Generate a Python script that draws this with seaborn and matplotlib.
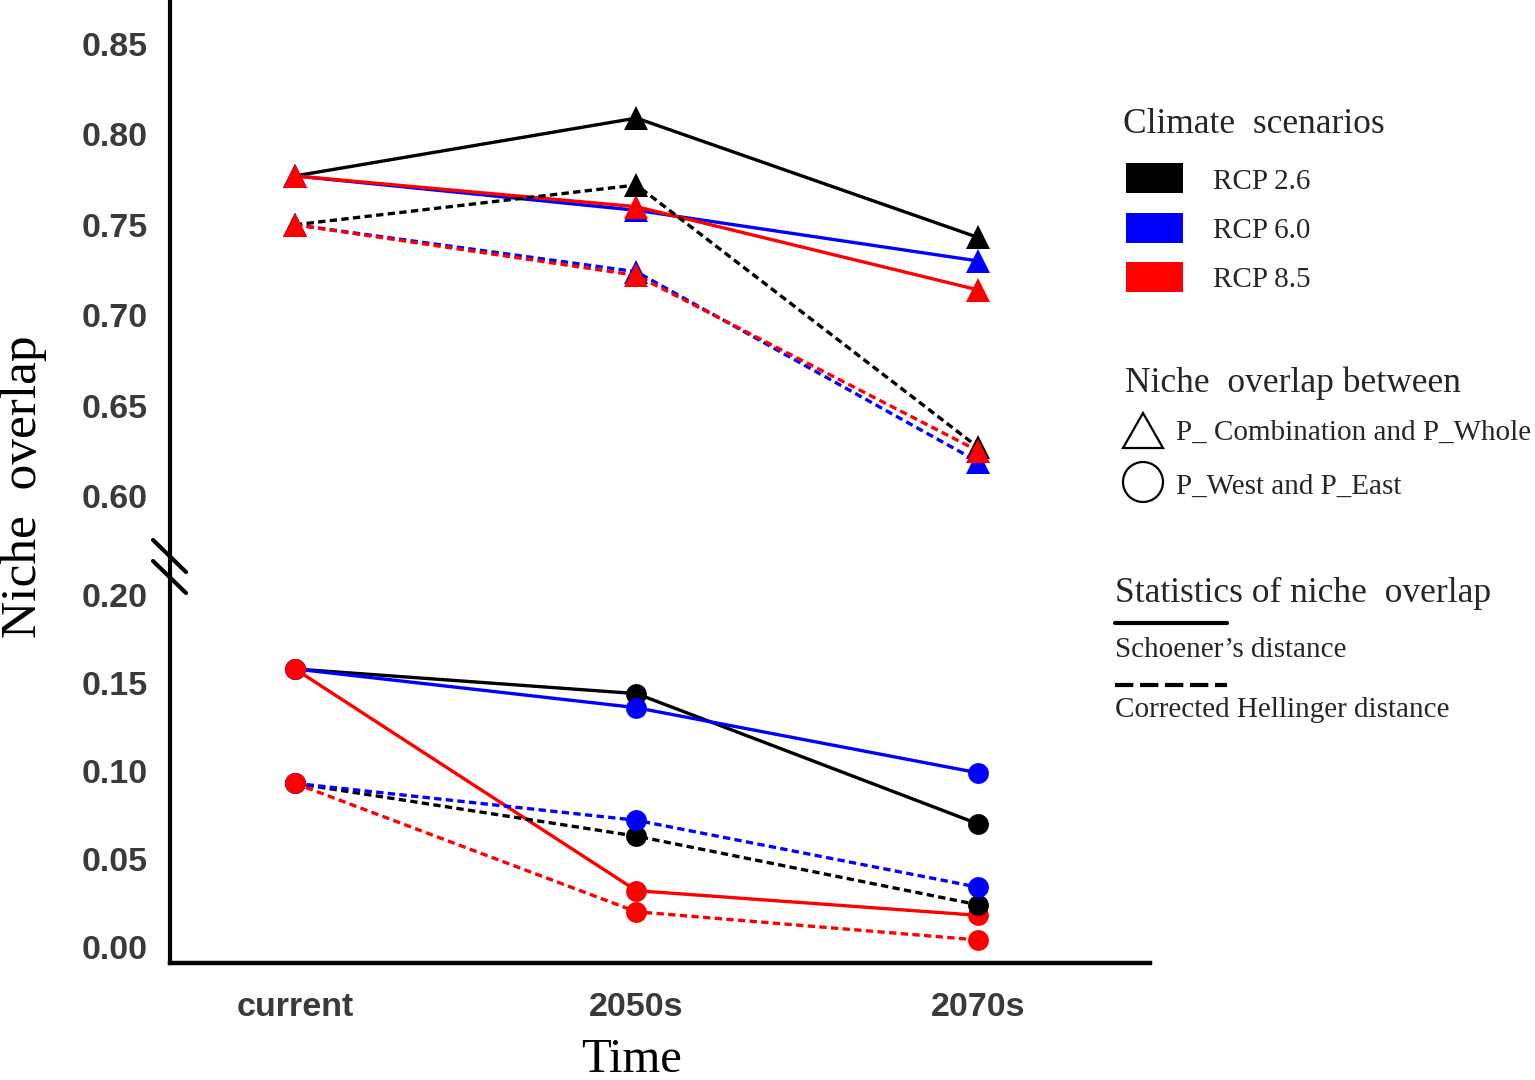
import matplotlib
matplotlib.use("Agg")
import matplotlib.pyplot as plt
from matplotlib.lines import Line2D
from matplotlib.patches import Rectangle, Polygon, Ellipse
import seaborn as sns
import pandas as pd

# ---------------- data ----------------
periods = ["current", "2050s", "2070s"]
scenarios = ["RCP 2.6", "RCP 6.0", "RCP 8.5"]
scenario_colors = ["#000000", "#0000FF", "#FF0000"]

# P_Combination vs P_Whole (triangles, upper panel)
comb_schoener_rcp26 = [0.777, 0.809, 0.743]
comb_schoener_rcp60 = [0.777, 0.758, 0.730]
comb_schoener_rcp85 = [0.777, 0.760, 0.714]
comb_hellinger_rcp26 = [0.750, 0.772, 0.627]
comb_hellinger_rcp60 = [0.750, 0.724, 0.619]
comb_hellinger_rcp85 = [0.750, 0.722, 0.625]

# P_West vs P_East (circles, lower panel)
we_schoener_rcp26 = [0.158, 0.144, 0.070]
we_schoener_rcp60 = [0.158, 0.136, 0.099]
we_schoener_rcp85 = [0.158, 0.032, 0.018]
we_hellinger_rcp26 = [0.093, 0.063, 0.024]
we_hellinger_rcp60 = [0.093, 0.072, 0.034]
we_hellinger_rcp85 = [0.093, 0.020, 0.004]

upper_ticks = [0.60, 0.65, 0.70, 0.75, 0.80, 0.85]
lower_ticks = [0.00, 0.05, 0.10, 0.15, 0.20]

# ---------------- style ----------------
sns.set_style("white")
plt.rcParams["font.family"] = ["Liberation Sans", "DejaVu Sans"]

W, H = 1535, 1080
fig = plt.figure(figsize=(W / 100, H / 100), dpi=100)


def fx(x):
    return x / W


def fy(y):
    return 1 - y / H


ax_up = fig.add_axes([fx(170), fy(575), (1150 - 170) / W, 575 / H])
ax_lo = fig.add_axes([fx(170), fy(963), (1150 - 170) / W, (963 - 575) / H])

comb_series = [
    (comb_schoener_rcp26, 0, "solid"), (comb_schoener_rcp60, 1, "solid"), (comb_schoener_rcp85, 2, "solid"),
    (comb_hellinger_rcp26, 0, "dash"), (comb_hellinger_rcp60, 1, "dash"), (comb_hellinger_rcp85, 2, "dash"),
]
we_series = [
    (we_schoener_rcp26, 0, "solid"), (we_schoener_rcp60, 1, "solid"), (we_schoener_rcp85, 2, "solid"),
    (we_hellinger_rcp26, 0, "dash"), (we_hellinger_rcp60, 1, "dash"), (we_hellinger_rcp85, 2, "dash"),
]

xpos = list(range(len(periods)))


def draw(ax, series, marker, ms):
    for vals, si, ls in series:
        kw = dict(color=scenario_colors[si], marker=marker, markersize=ms,
                  markeredgewidth=0, linewidth=2.4, legend=False, ax=ax)
        if ls == "dash":
            kw["dashes"] = (2.2, 1.3)
        sns.lineplot(x=xpos, y=vals, **kw)


draw(ax_up, comb_series, "^", 17.5)
draw(ax_lo, we_series, "o", 15)

for ax in (ax_up, ax_lo):
    ax.set_xlim(-0.366, 2.504)
    ax.set_facecolor("none")
    for s in ("top", "right"):
        ax.spines[s].set_visible(False)
    ax.spines["left"].set_linewidth(3)
    ax.spines["left"].set_color("black")
    ax.tick_params(axis="y", length=0, pad=16, labelsize=24.5, labelcolor="#3a3a3a")
    ax.set_xlabel("")
    ax.set_ylabel("")

ax_up.set_ylim(0.5563, 0.8743)
ax_up.set_yticks(upper_ticks)
ax_up.set_yticklabels([f"{t:.2f}" for t in upper_ticks], fontweight="bold")
ax_up.spines["bottom"].set_visible(False)
ax_up.tick_params(axis="x", bottom=False, labelbottom=False)

ax_lo.set_ylim(-0.0091, 0.2114)
ax_lo.set_yticks(lower_ticks)
ax_lo.set_yticklabels([f"{t:.2f}" for t in lower_ticks], fontweight="bold")
ax_lo.spines["bottom"].set_linewidth(3.2)
ax_lo.spines["bottom"].set_color("black")
ax_lo.set_xticks(xpos)
ax_lo.set_xticklabels(periods, fontweight="bold")
ax_lo.tick_params(axis="x", length=8, width=2.2, direction="out", pad=13,
                  labelsize=24.5, labelcolor="#3a3a3a", color="black")

# axis break marks
for y0 in (540, 561):
    fig.add_artist(Line2D([fx(153), fx(186)], [fy(y0), fy(y0 + 32)],
                          transform=fig.transFigure, color="black", linewidth=3))

serif = ["Liberation Serif", "DejaVu Serif"]

# axis titles
fig.text(fx(632), fy(1072), "Time", ha="center", va="baseline",
         fontsize=35, family=serif, color="black")
fig.text(fx(24), fy(487), "Niche  overlap", ha="center", va="center",
         rotation=90, fontsize=37, family=serif, color="black")

# ---------------- legend ----------------
fig.text(fx(1123), fy(133), "Climate  scenarios", fontsize=25.5, family=serif, va="baseline")
rect_tops = [163, 213, 262]
label_base = [189, 238, 287]
for i, name in enumerate(scenarios):
    fig.add_artist(Rectangle((fx(1126), fy(rect_tops[i] + 30)), 57 / W, 30 / H,
                             transform=fig.transFigure, facecolor=scenario_colors[i],
                             edgecolor="none"))
    fig.text(fx(1213), fy(label_base[i]), name, fontsize=21, family=serif, va="baseline")

fig.text(fx(1125), fy(392), "Niche  overlap between", fontsize=25.5, family=serif, va="baseline")
fig.add_artist(Polygon([(fx(1123), fy(448)), (fx(1163), fy(448)), (fx(1143), fy(413))],
                       closed=True, transform=fig.transFigure, facecolor="none",
                       edgecolor="black", linewidth=1.6))
fig.text(fx(1176), fy(440), "P_ Combination and P_Whole", fontsize=21, family=serif, va="baseline")
fig.add_artist(Ellipse((fx(1143), fy(482)), 40 / W, 40 / H, transform=fig.transFigure,
                       facecolor="none", edgecolor="black", linewidth=1.6))
fig.text(fx(1176), fy(494), "P_West and P_East", fontsize=21, family=serif, va="baseline")

fig.text(fx(1115), fy(602), "Statistics of niche  overlap", fontsize=25.5, family=serif, va="baseline")
fig.add_artist(Line2D([fx(1115), fx(1227)], [fy(623), fy(623)], transform=fig.transFigure,
                      color="black", linewidth=3))
fig.text(fx(1115), fy(657), "Schoener\u2019s distance", fontsize=21, family=serif, va="baseline")
fig.add_artist(Line2D([fx(1115), fx(1227)], [fy(685), fy(685)], transform=fig.transFigure,
                      color="black", linewidth=3, dashes=(4.4, 1.6)))
fig.text(fx(1115), fy(717), "Corrected Hellinger distance", fontsize=21, family=serif, va="baseline")

fig.savefig("out.png", dpi=100, facecolor="white")
